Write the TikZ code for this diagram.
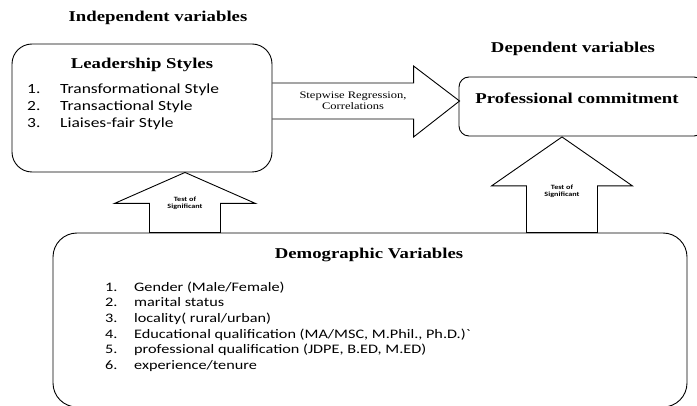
\documentclass[tikz,border=0pt]{standalone}
\usepackage{fontspec}
\setmainfont[FakeStretch=1.25]{Liberation Serif}
\newfontfamily\calfont[FakeStretch=1.25]{Carlito}
\usetikzlibrary{calc,backgrounds}
\tikzset{
  varbox/.style={draw,line width=0.9pt,rounded corners=#1,inner sep=0pt},
  blockarrow/.style={draw,fill=white,line width=0.9pt,line join=miter},
  heading/.style={font=\bfseries\fontsize{15}{18}\selectfont,inner sep=0pt,anchor=base},
  itemlist/.style={align=left,anchor=north west,inner sep=0pt},
  arrowtext/.style={align=center,inner sep=0pt}
}
\begin{document}
\begin{tikzpicture}[x=1pt,y=-1pt,line join=round]
\useasboundingbox (0,0) rectangle (697,406);
\clip (0,0) rectangle (697,406);
% boxes
\node[varbox=20pt,minimum width=260pt,minimum height=128pt] (lead) at (142,108) {};
\node[varbox=10pt,minimum width=245pt,minimum height=59pt] (prof) at (581.5,106.5) {};
\node[varbox=24pt,minimum width=634pt,minimum height=174pt] (demo) at (370,320) {};
% headings
\node[heading] (indep) at (158,22) {Independent variables};
\node[heading] (dep) at (573,53) {Dependent variables};
\node[heading] (leadtitle) at (142,68.5) {Leadership Styles};
\node[heading] (proftitle) at (577,104) {Professional commitment};
\node[heading] (demotitle) at (369,259) {Demographic Variables};
% lists
\node[itemlist,font=\calfont\fontsize{14}{17}\selectfont] (leadlist) at (27,84)
  {\makebox[33pt][l]{1.}Transformational Style\\
   \makebox[33pt][l]{2.}Transactional Style\\
   \makebox[33pt][l]{3.}Liaises-fair Style};
\node[itemlist,font=\calfont\fontsize{13}{15.6}\selectfont] (demolist) at (105,281.5)
  {\makebox[29pt][l]{1.}Gender (Male/Female)\\
   \makebox[29pt][l]{2.}marital status\\
   \makebox[29pt][l]{3.}locality( rural/urban)\\
   \makebox[29pt][l]{4.}Educational qualification (MA/MSC, M.Phil., Ph.D.)\textasciigrave\\
   \makebox[29pt][l]{5.}professional qualification (JDPE, B.ED, M.ED)\\
   \makebox[29pt][l]{6.}experience/tenure};
% block arrows
\coordinate (rtip) at ($(prof.west)+(1,-5.5)$);
\coordinate (ltip) at ($(lead.south)+(43,0)$);
\coordinate (utip) at ($(prof.south)+(-19.5,0.5)$);
\begin{scope}[on background layer]
\draw[blockarrow] ($(lead.east)+(0,-25)$) -- ($(rtip)+(-46,-18)$) -- ($(rtip)+(-46,-35)$)
  -- (rtip) -- ($(rtip)+(-46,36)$) -- ($(rtip)+(-46,18)$) -- ($(lead.east)+(0,11)$);
\draw[blockarrow] (ltip) -- ++(70.5,31) -- ++(-35,0) -- ($(ltip |- demo.north)+(35.5,0)$)
  -- ($(ltip |- demo.north)+(-35.5,0)$) -- ($(ltip)+(-35.5,31)$) -- ++(-35,0) -- cycle;
\draw[blockarrow] (utip) -- ++(70.5,49) -- ++(-35,0) -- ($(utip |- demo.north)+(35.5,0)$)
  -- ($(utip |- demo.north)+(-35.5,0)$) -- ($(utip)+(-35.5,49)$) -- ++(-35,0) -- cycle;
\end{scope}
% arrow labels
\node[arrowtext,font=\fontsize{10}{11}\selectfont] (regtext) at (353,100.5) {Stepwise Regression,\\Correlations};
\node[arrowtext,font=\calfont\bfseries\fontsize{6.5}{7}\selectfont] (ltest) at (185,203) {Test of\\Significant};
\node[arrowtext,font=\calfont\bfseries\fontsize{6.5}{7}\selectfont] (utest) at (562,191) {Test of\\Significant};
\end{tikzpicture}
\end{document}
